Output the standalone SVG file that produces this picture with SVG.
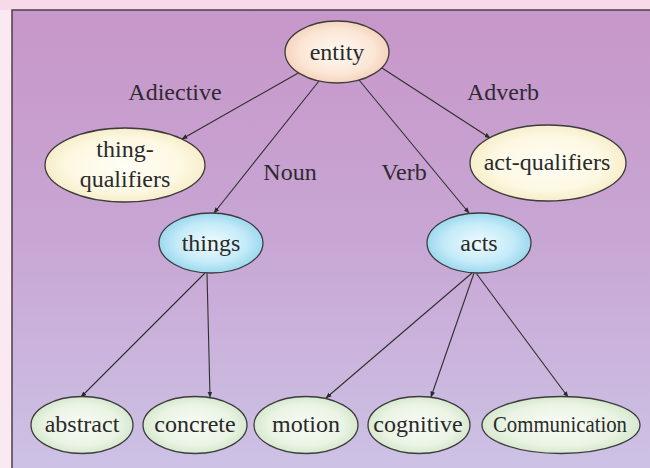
<svg xmlns="http://www.w3.org/2000/svg" width="650" height="468" viewBox="0 0 650 468">
<defs>
<linearGradient id="bg" x1="0" y1="0" x2="0" y2="1">
<stop offset="0" stop-color="#c797c9"/>
<stop offset="0.5" stop-color="#c8a6d4"/>
<stop offset="1" stop-color="#cdc2e5"/>
</linearGradient>
<radialGradient id="gPeach" cx="0.5" cy="0.5" r="0.6">
<stop offset="0" stop-color="#fffaf4"/>
<stop offset="0.6" stop-color="#fbe6d6"/>
<stop offset="1" stop-color="#f2c6a8"/>
</radialGradient>
<radialGradient id="gCream" cx="0.5" cy="0.5" r="0.6">
<stop offset="0" stop-color="#fffef6"/>
<stop offset="0.6" stop-color="#fdf8e2"/>
<stop offset="1" stop-color="#f1e6b8"/>
</radialGradient>
<radialGradient id="gBlue" cx="0.5" cy="0.5" r="0.6">
<stop offset="0" stop-color="#f0fbff"/>
<stop offset="0.55" stop-color="#c4ebf8"/>
<stop offset="1" stop-color="#86cde9"/>
</radialGradient>
<radialGradient id="gGreen" cx="0.5" cy="0.5" r="0.6">
<stop offset="0" stop-color="#f8fcf6"/>
<stop offset="0.6" stop-color="#eaf4e4"/>
<stop offset="1" stop-color="#c9e0c0"/>
</radialGradient>
<marker id="arr" viewBox="0 0 10 10" refX="9" refY="5" markerWidth="6" markerHeight="6" orient="auto" markerUnits="userSpaceOnUse">
<path d="M0,1 L10,5 L0,9 z" fill="#2b2b2b"/>
</marker>
<style>
.node ellipse { stroke: #3c3c3c; stroke-width: 1.3; }
.t { font-family: "Liberation Serif", "Times New Roman", serif; font-size: 24px; fill: #2a2a2a; text-anchor: middle; }
.lbl { font-family: "Liberation Serif", "Times New Roman", serif; font-size: 24px; fill: #2e2a30; text-anchor: middle; }
.edges line { stroke: #2f2f2f; stroke-width: 1.1; marker-end: url(#arr); }
</style>
</defs>
<rect x="0" y="0" width="650" height="468" fill="#fbe9f2"/>
<rect x="0" y="0" width="650" height="10" fill="#f8d9e8"/>
<rect x="12" y="10" width="638" height="458" fill="url(#bg)"/>
<path d="M12,468 L12,10 L650,10" fill="none" stroke="#4a3f4c" stroke-width="1.5"/>

<g id="connectors" class="edges">
<line x1="300" y1="72" x2="182" y2="139"/>
<line x1="319" y1="81" x2="214" y2="213"/>
<line x1="359" y1="80" x2="469" y2="213"/>
<line x1="382" y1="68" x2="490" y2="138"/>
<line x1="205" y1="273" x2="81" y2="397"/>
<line x1="207" y1="273" x2="210" y2="397"/>
<line x1="472" y1="273" x2="326" y2="398"/>
<line x1="474" y1="273" x2="431" y2="397"/>
<line x1="476" y1="273" x2="568" y2="397"/>
</g>

<g id="edge-labels">
<text class="lbl" x="175" y="100">Adiective</text>
<text class="lbl" x="503" y="100">Adverb</text>
<text class="lbl" x="290" y="180">Noun</text>
<text class="lbl" x="404" y="180">Verb</text>
</g>

<g id="entity" class="node">
<ellipse cx="337" cy="52" rx="52" ry="31" fill="url(#gPeach)"/>
<text class="t" x="337" y="60">entity</text>
</g>
<g id="thing-qualifiers" class="node">
<ellipse cx="125" cy="165" rx="80" ry="37" fill="url(#gCream)"/>
<text class="t" x="125" y="157">thing-</text>
<text class="t" x="125" y="187">qualifiers</text>
</g>
<g id="act-qualifiers" class="node">
<ellipse cx="548" cy="163" rx="78" ry="38" fill="url(#gCream)"/>
<text class="t" x="547" y="170">act-qualifiers</text>
</g>
<g id="things" class="node">
<ellipse cx="211" cy="243" rx="52" ry="30" fill="url(#gBlue)"/>
<text class="t" x="211" y="251">things</text>
</g>
<g id="acts" class="node">
<ellipse cx="479" cy="243" rx="52" ry="30" fill="url(#gBlue)"/>
<text class="t" x="479" y="251">acts</text>
</g>
<g id="abstract" class="node">
<ellipse cx="82" cy="425" rx="51" ry="28.5" fill="url(#gGreen)"/>
<text class="t" x="82" y="432">abstract</text>
</g>
<g id="concrete" class="node">
<ellipse cx="195" cy="425" rx="52" ry="28.5" fill="url(#gGreen)"/>
<text class="t" x="195" y="432">concrete</text>
</g>
<g id="motion" class="node">
<ellipse cx="306" cy="425" rx="52" ry="28.5" fill="url(#gGreen)"/>
<text class="t" x="306" y="432">motion</text>
</g>
<g id="cognitive" class="node">
<ellipse cx="419" cy="425" rx="51" ry="28.5" fill="url(#gGreen)"/>
<text class="t" x="418" y="432">cognitive</text>
</g>
<g id="communication" class="node">
<ellipse cx="561" cy="425" rx="79" ry="28.5" fill="url(#gGreen)"/>
<text class="t" x="560" y="432" textLength="134" lengthAdjust="spacingAndGlyphs">Communication</text>
</g>
</svg>
